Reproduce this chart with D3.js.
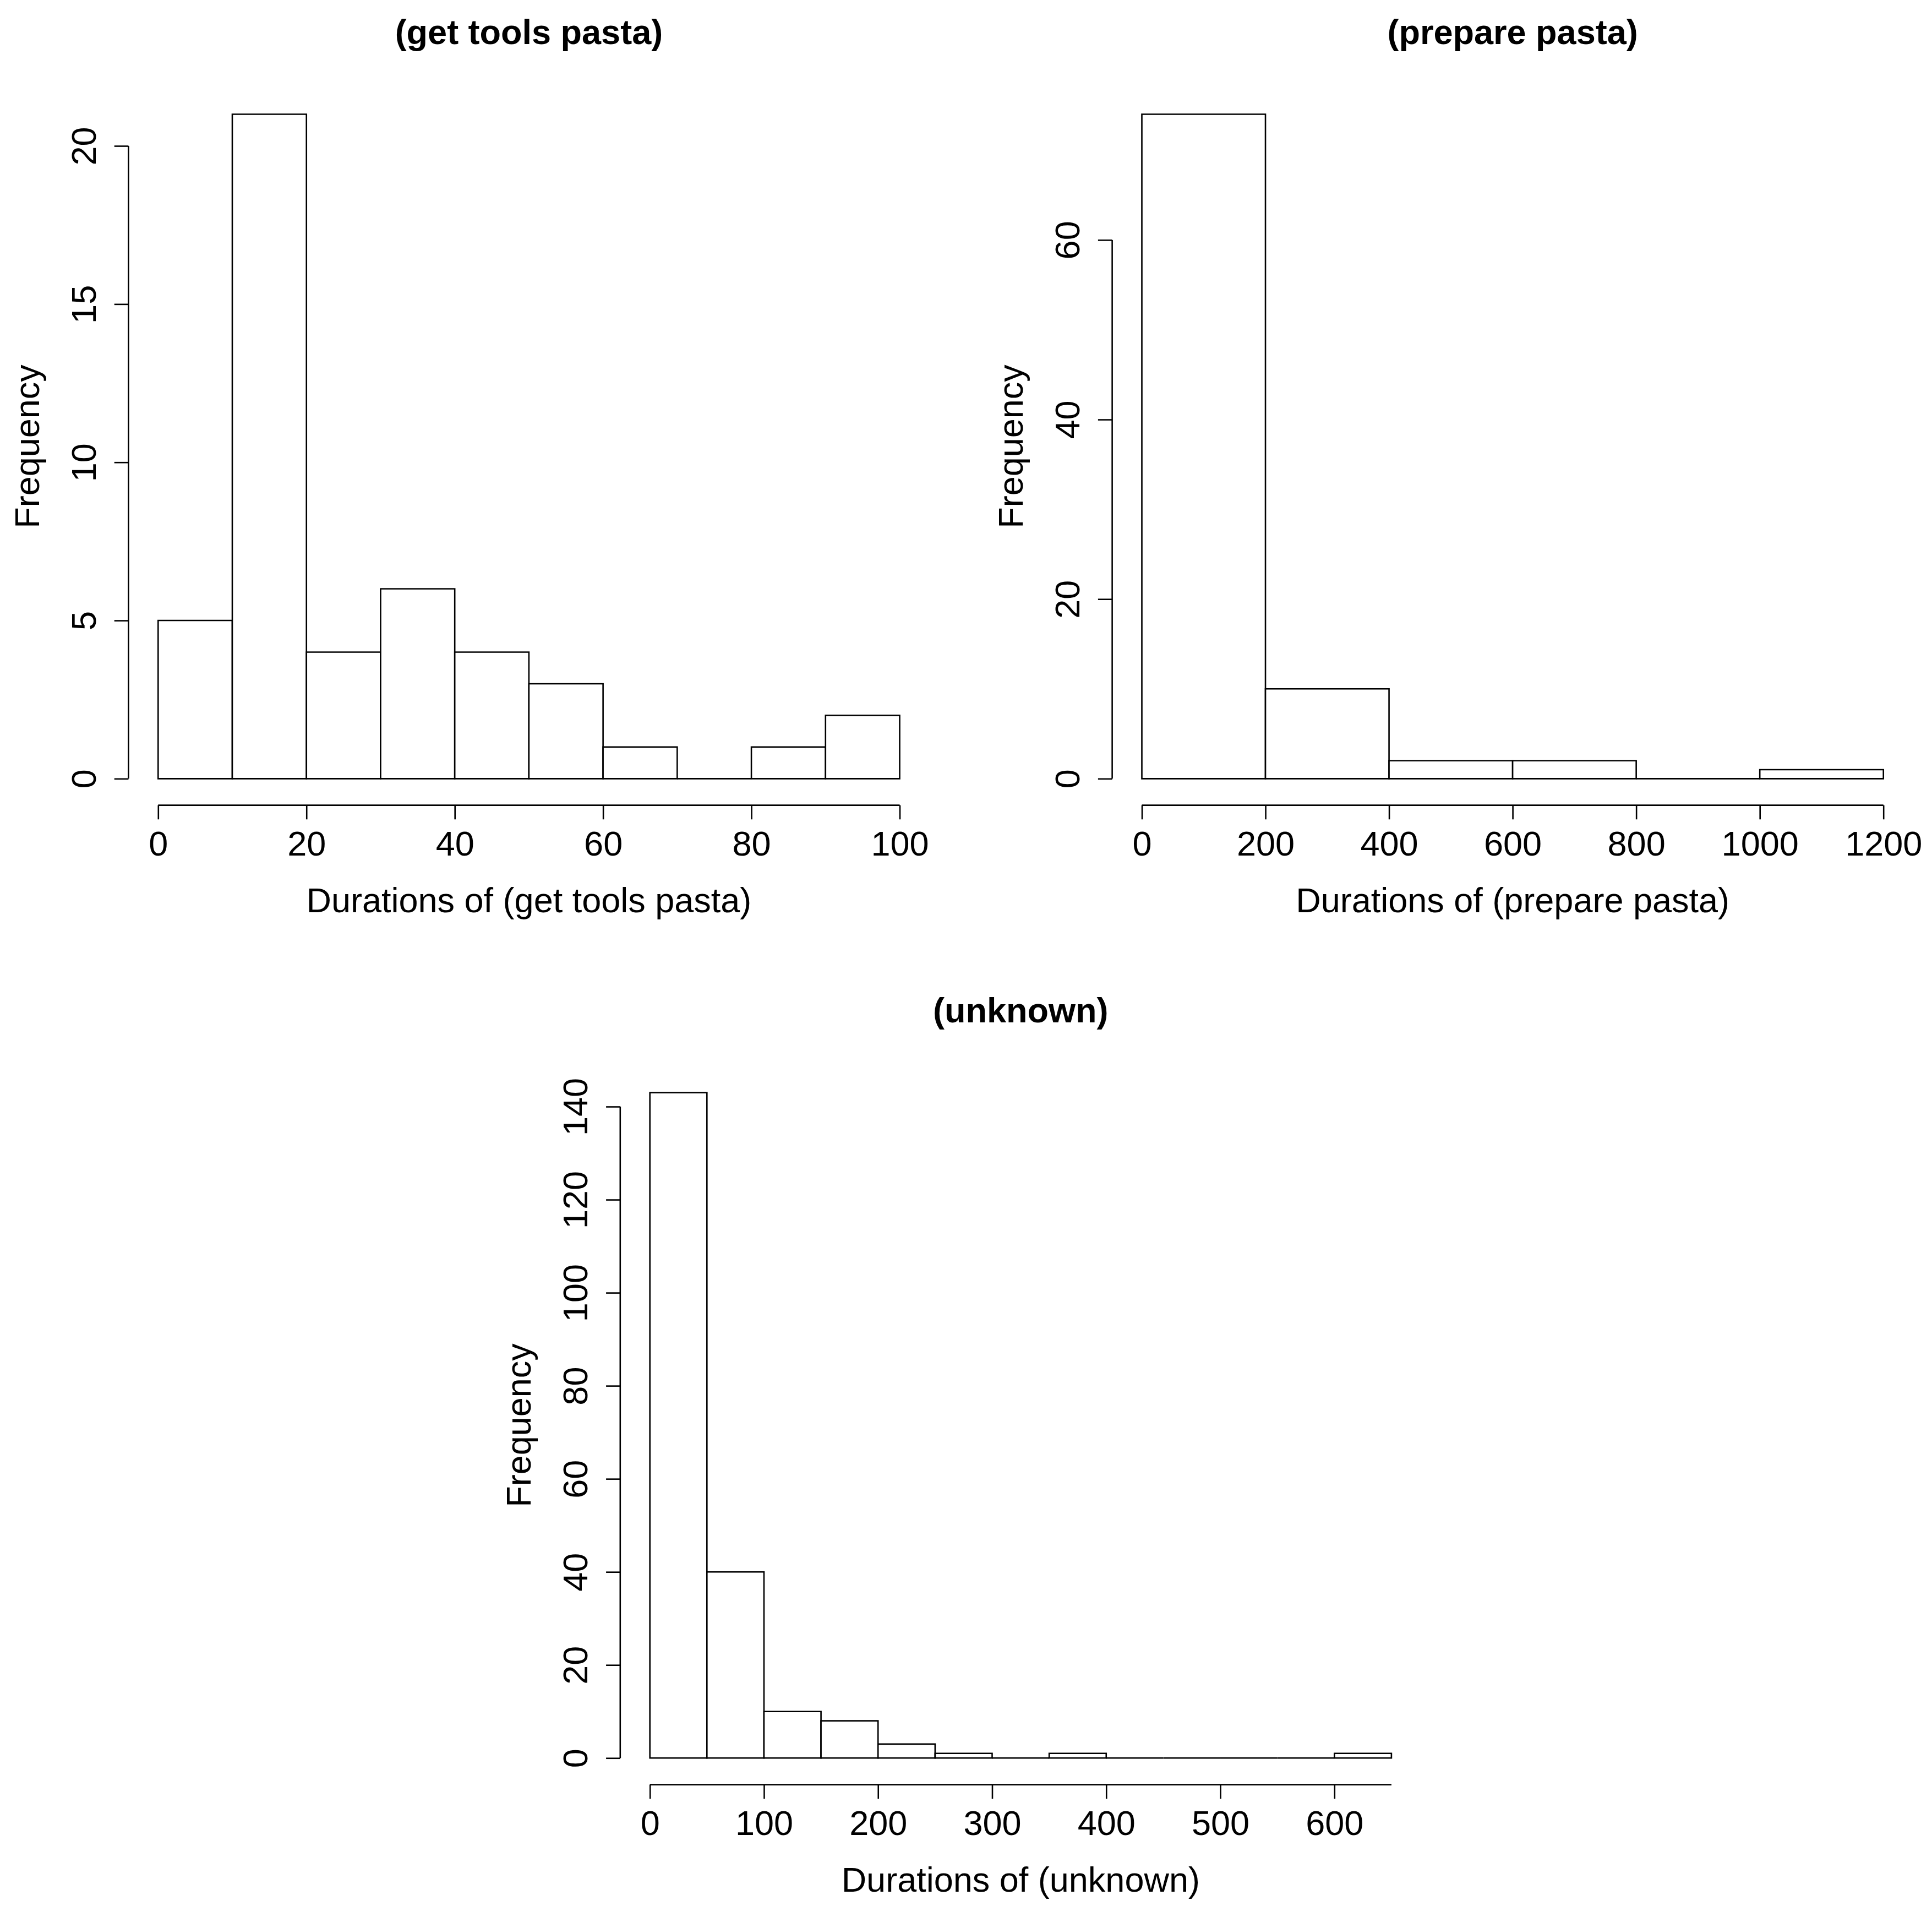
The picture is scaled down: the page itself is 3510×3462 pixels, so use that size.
<!DOCTYPE html>
<html>
<head>
<meta charset="utf-8">
<title>Durations histograms</title>
<script src="https://cdn.jsdelivr.net/npm/d3@7"></script>
<style>
  body { margin: 0; background: #fff; }
  svg text { font-family: "Liberation Sans", Arial, sans-serif; fill: #000; }
</style>
</head>
<body>
<div id="chart"></div>
<script>
// ---- data ----
const getToolsBreaks = [0, 10, 20, 30, 40, 50, 60, 70, 80, 90, 100];
const getToolsCounts = [5, 21, 4, 6, 4, 3, 1, 0, 1, 2];
const getToolsXTicks = [0, 20, 40, 60, 80, 100];
const getToolsYTicks = [0, 5, 10, 15, 20];

const prepareBreaks = [0, 200, 400, 600, 800, 1000, 1200];
const prepareCounts = [74, 10, 2, 2, 0, 1];
const prepareXTicks = [0, 200, 400, 600, 800, 1000, 1200];
const prepareYTicks = [0, 20, 40, 60];

const unknownBreaks = [0, 50, 100, 150, 200, 250, 300, 350, 400, 450, 500, 550, 600, 650];
const unknownCounts = [143, 40, 10, 8, 3, 1, 0, 1, 0, 0, 0, 0, 1];
const unknownXTicks = [0, 100, 200, 300, 400, 500, 600];
const unknownYTicks = [0, 20, 40, 60, 80, 100, 120, 140];

const panels = [
  { title: "(get tools pasta)", xlab: "Durations of (get tools pasta)",
    breaks: getToolsBreaks, counts: getToolsCounts, xTicks: getToolsXTicks, yTicks: getToolsYTicks,
    left: 233.4, top: 159.3, w: 1455, h: 1303.3 },
  { title: "(prepare pasta)", xlab: "Durations of (prepare pasta)",
    breaks: prepareBreaks, counts: prepareCounts, xTicks: prepareXTicks, yTicks: prepareYTicks,
    left: 2020.6, top: 159.3, w: 1455, h: 1303.3 },
  { title: "(unknown)", xlab: "Durations of (unknown)",
    breaks: unknownBreaks, counts: unknownCounts, xTicks: unknownXTicks, yTicks: unknownYTicks,
    left: 1126.8, top: 1936.3, w: 1455, h: 1305.3 }
];

const W = 3510, H = 3462;
const fontSize = 63;
const lw = 2.6;
const tick = 25.7;

const svg = d3.select("#chart").append("svg")
  .attr("width", W)
  .attr("height", H)
  .attr("viewBox", `0 0 ${W} ${H}`);

svg.append("rect").attr("width", W).attr("height", H).attr("fill", "#fff");

// R style limits: range of data, stretched 4% on each side
const rLim = (lo, hi) => {
  const d = (hi - lo) * 0.04;
  return [lo - d, hi + d];
};

const drawPanel = (p) => {
  const g = svg.append("g");
  const right = p.left + p.w, bottom = p.top + p.h;

  const x = d3.scaleLinear()
    .domain(rLim(p.breaks[0], p.breaks[p.breaks.length - 1]))
    .range([p.left, right]);
  const y = d3.scaleLinear()
    .domain(rLim(0, d3.max(p.counts)))
    .range([bottom, p.top]);

  const bins = p.counts.map((c, i) => ({ x0: p.breaks[i], x1: p.breaks[i + 1], n: c }));

  // bars as closed paths, so empty bins still leave their line on the baseline
  g.selectAll("path.bar")
    .data(bins)
    .join("path")
    .attr("class", "bar")
    .attr("d", d => `M${x(d.x0)},${y(0)}V${y(d.n)}H${x(d.x1)}V${y(0)}Z`)
    .attr("fill", "#fff")
    .attr("stroke", "#000")
    .attr("stroke-width", lw)
    .attr("stroke-linejoin", "miter");

  // x axis, the line runs to the last break
  const gx = g.append("g")
    .attr("transform", `translate(0,${bottom})`)
    .call(d3.axisBottom(x).tickValues(p.xTicks).tickSize(tick).tickSizeOuter(0).tickFormat(d3.format("d")));
  gx.select(".domain")
    .attr("d", `M${x(p.xTicks[0])},0H${x(p.breaks[p.breaks.length - 1])}`)
    .attr("stroke-width", lw);
  gx.selectAll(".tick line").attr("stroke-width", lw);
  gx.selectAll(".tick text")
    .attr("y", 91.4)
    .attr("dy", null)
    .attr("font-size", fontSize)
    .attr("font-family", null);
  gx.attr("font-size", null).attr("font-family", null);

  // y axis, labels turned like R's las = 0
  const gy = g.append("g")
    .attr("transform", `translate(${p.left},0)`)
    .call(d3.axisLeft(y).tickValues(p.yTicks).tickSize(tick).tickSizeOuter(0).tickFormat(d3.format("d")));
  gy.select(".domain")
    .attr("d", `M0,${y(p.yTicks[0])}V${y(p.yTicks[p.yTicks.length - 1])}`)
    .attr("stroke-width", lw);
  gy.selectAll(".tick line").attr("stroke-width", lw);
  gy.selectAll(".tick text")
    .attr("x", null)
    .attr("dy", null)
    .attr("transform", "translate(-59.6,0) rotate(-90)")
    .attr("text-anchor", "middle")
    .attr("font-size", fontSize)
    .attr("font-family", null);
  gy.attr("font-size", null).attr("font-family", null);

  // titles
  g.append("text")
    .attr("x", (p.left + right) / 2)
    .attr("y", p.top - 79.3)
    .attr("text-anchor", "middle")
    .attr("font-weight", "bold")
    .attr("font-size", fontSize)
    .text(p.title);

  g.append("text")
    .attr("x", (p.left + right) / 2)
    .attr("y", bottom + 194.2)
    .attr("text-anchor", "middle")
    .attr("font-size", fontSize)
    .text(p.xlab);

  g.append("text")
    .attr("transform", `translate(${p.left - 162.4},${(p.top + bottom) / 2}) rotate(-90)`)
    .attr("text-anchor", "middle")
    .attr("font-size", fontSize)
    .text("Frequency");
};

panels.forEach(drawPanel);
</script>
</body>
</html>
